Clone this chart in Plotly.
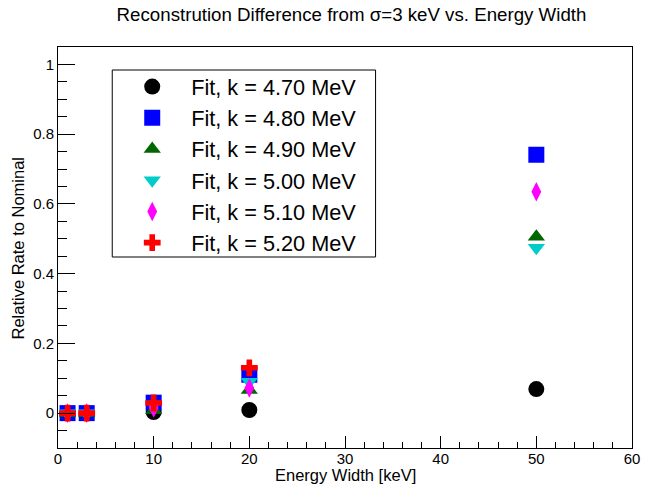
import plotly.graph_objects as go

energy_width = [1, 3, 10, 20, 50]
k470 = [0.0, 0.0, 0.003, 0.009, 0.069]
k480 = [0.0, 0.0, 0.030, 0.110, 0.741]
k490 = [0.0, 0.0, 0.008, 0.066, 0.506]
k500 = [0.0, 0.0, 0.025, 0.090, 0.474]
k510 = [0.0, 0.0, 0.015, 0.072, 0.635]
k520 = [0.0, 0.0, 0.029, 0.130, None]

names = ["Fit, k = 4.70 MeV", "Fit, k = 4.80 MeV", "Fit, k = 4.90 MeV",
         "Fit, k = 5.00 MeV", "Fit, k = 5.10 MeV", "Fit, k = 5.20 MeV"]
series = [k470, k480, k490, k500, k510, k520]
symbols = ["circle", "square", "triangle-up", "triangle-down", "diamond-tall", "cross"]
colors = ["#000000", "#0000ff", "#006600", "#00cccc", "#ff00ff", "#ff0000"]
sizes = [16, 16, 15, 15, 14, 14]

fig = go.Figure()
for n, s, sym, c, sz in zip(names, series, symbols, colors, sizes):
    fig.add_trace(go.Scatter(x=energy_width, y=s, mode="markers", name=n,
                             marker=dict(symbol=sym, color=c, size=sz, line=dict(width=0))))

# plot-area pixel helpers (plot area: x 58..640, y 47..448)
def px_x(p):
    return (p - 58) / 582

def px_y(p):
    return (448 - p) / 401

font = "Liberation Sans, Arial, sans-serif"
fig.update_layout(
    width=652, height=485,
    margin=dict(l=58, r=12, t=47, b=37),
    paper_bgcolor="white", plot_bgcolor="white",
    font=dict(family=font, size=15, color="black"),
    title=dict(text="Reconstrution Difference from σ=3 keV vs. Energy Width",
               x=351.5 / 652, xanchor="center", y=1 - 14 / 485, yanchor="middle",
               font=dict(size=18.7)),
    showlegend=True,
    legend=dict(x=px_x(114), y=px_y(66),
                xanchor="left", yanchor="top",
                borderwidth=0, bgcolor="rgba(0,0,0,0)",
                font=dict(size=21.7), itemwidth=68, indentation=0,
                tracegroupgap=0),
    shapes=[dict(type="rect", xref="paper", yref="paper",
                 x0=px_x(113), x1=px_x(380), y0=px_y(257), y1=px_y(70),
                 line=dict(color="black", width=1), fillcolor="white", layer="below")],
    xaxis=dict(range=[0, 60], dtick=10, showgrid=False, zeroline=False,
               showline=True, linecolor="black", linewidth=1, mirror=True,
               ticks="inside", ticklen=12, tickcolor="black",
               minor=dict(dtick=2, ticks="inside", ticklen=6, tickcolor="black"),
               tickfont=dict(size=15), ticklabelstandoff=-3),
    yaxis=dict(range=[-0.1, 1.05], dtick=0.2, showgrid=False, zeroline=False,
               showline=True, linecolor="black", linewidth=1, mirror=True,
               ticks="inside", ticklen=17, tickcolor="black",
               minor=dict(dtick=0.05, ticks="inside", ticklen=9, tickcolor="black"),
               tickfont=dict(size=15)),
    annotations=[
        dict(text="Energy Width [keV]", xref="paper", yref="paper",
             x=px_x(423), y=0, xanchor="right", yanchor="middle",
             yshift=-(475 - 448), showarrow=False, font=dict(size=16.5)),
        dict(text="Relative Rate to Nominal", xref="paper", yref="paper",
             x=0, y=px_y(155), xanchor="center", yanchor="top",
             xshift=-(58 - 17), textangle=-90, showarrow=False, font=dict(size=16.5)),
    ],
)
fig.write_html("out.html")
